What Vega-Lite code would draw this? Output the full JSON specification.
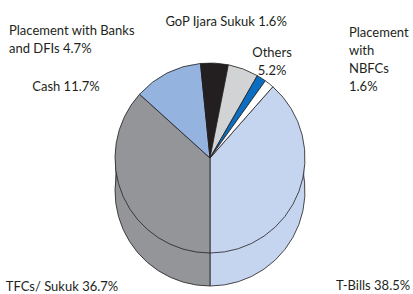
{
  "$schema": "https://vega.github.io/schema/vega-lite/v6.json",
  "width": 413,
  "height": 294,
  "padding": 0,
  "autosize": {"type": "none"},
  "background": "white",
  "config": {
    "view": {"stroke": null},
    "font": "Lato",
    "text": {"font": "Lato", "fontSize": 13, "lineHeight": 18, "lineBreak": "\n"}
  },
  "data": {
    "values": [
      {"category": "T-Bills", "share": 38.5, "label": "T-Bills 38.5%"},
      {"category": "TFCs/ Sukuk", "share": 36.7, "label": "TFCs/ Sukuk 36.7%"},
      {"category": "Cash", "share": 11.7, "label": "Cash 11.7%"},
      {"category": "Placement with Banks and DFIs", "share": 4.7, "label": "Placement with Banks\nand DFIs 4.7%"},
      {"category": "Others", "share": 5.2, "label": "Others\n5.2%"},
      {"category": "GoP Ijara Sukuk", "share": 1.6, "label": "GoP Ijara Sukuk 1.6%"},
      {"category": "Placement with NBFCs", "share": 1.6, "label": "Placement\nwith\nNBFCs\n1.6%"}
    ]
  },
  "transform": [{"window": [{"op": "row_number", "as": "idx"}]}],
  "encoding": {
    "theta": {"field": "share", "type": "quantitative", "stack": true, "scale": {"range": [0.7226, 7.0058]}},
    "order": {"field": "idx", "type": "quantitative"},
    "color": {
      "field": "category",
      "type": "nominal",
      "legend": null,
      "scale": {
        "domain": ["T-Bills", "TFCs/ Sukuk", "Cash", "Placement with Banks and DFIs", "Others", "GoP Ijara Sukuk", "Placement with NBFCs"],
        "range": ["#c6d5ef", "#939598", "#94b3de", "#231f20", "#d1d3d4", "#0a6fc2", "#ffffff"]
      }
    }
  },
  "layer": [
    {"mark": {"type": "arc", "outerRadius": 95, "xOffset": 3.5, "yOffset": 15, "strokeWidth": 0}},
    {"mark": {"type": "arc", "outerRadius": 95, "xOffset": 3.5, "yOffset": 19, "strokeWidth": 0}},
    {"mark": {"type": "arc", "outerRadius": 95, "xOffset": 3.5, "yOffset": 23, "strokeWidth": 0}},
    {"mark": {"type": "arc", "outerRadius": 95, "xOffset": 3.5, "yOffset": 27, "strokeWidth": 0}},
    {"mark": {"type": "arc", "outerRadius": 95, "xOffset": 3.5, "yOffset": 31, "strokeWidth": 0}},
    {"mark": {"type": "arc", "outerRadius": 95, "xOffset": 3.5, "yOffset": 35, "strokeWidth": 0}},
    {"mark": {"type": "arc", "outerRadius": 95, "xOffset": 3.5, "yOffset": 39, "strokeWidth": 0}},
    {"mark": {"type": "arc", "outerRadius": 95, "xOffset": 3.5, "yOffset": 44, "stroke": "#231f20", "strokeWidth": 0.8}},
    {"mark": {"type": "arc", "outerRadius": 95, "xOffset": 3.5, "yOffset": 11, "stroke": "#231f20", "strokeWidth": 0.8}},
    {
      "mark": {"type": "text", "radius": 100, "xOffset": 3.5, "yOffset": 11, "dx": 69.5, "dy": 93},
      "encoding": {"text": {"condition": {"test": "datum.category === 'T-Bills'", "field": "label"}, "value": ""}, "color": {"value": "#231f20"}}
    },
    {
      "mark": {"type": "text", "radius": 100, "xOffset": 3.5, "yOffset": 11, "dx": -56.6, "dy": 88},
      "encoding": {"text": {"condition": {"test": "datum.category === 'TFCs/ Sukuk'", "field": "label"}, "value": ""}, "color": {"value": "#231f20"}}
    },
    {
      "mark": {"type": "text", "radius": 100, "xOffset": 3.5, "yOffset": 11, "dx": -98.9, "dy": 18.3},
      "encoding": {"text": {"condition": {"test": "datum.category === 'Cash'", "field": "label"}, "value": ""}, "color": {"value": "#231f20"}}
    },
    {
      "mark": {"type": "text", "radius": 100, "xOffset": 3.5, "yOffset": 11, "dx": -205.7, "dy": -27.1, "align": "left"},
      "encoding": {"text": {"condition": {"test": "datum.category === 'Placement with Banks and DFIs'", "field": "label"}, "value": ""}, "color": {"value": "#231f20"}}
    },
    {
      "mark": {"type": "text", "radius": 100, "xOffset": 3.5, "yOffset": 11, "dx": 27, "dy": -11.5},
      "encoding": {"text": {"condition": {"test": "datum.category === 'Others'", "field": "label"}, "value": ""}, "color": {"value": "#231f20"}}
    },
    {
      "mark": {"type": "text", "radius": 100, "xOffset": 3.5, "yOffset": 11, "dx": -38, "dy": -51.9},
      "encoding": {"text": {"condition": {"test": "datum.category === 'GoP Ijara Sukuk'", "field": "label"}, "value": ""}, "color": {"value": "#231f20"}}
    },
    {
      "mark": {"type": "text", "radius": 100, "xOffset": 3.5, "yOffset": 11, "dx": 76.7, "dy": -47, "align": "left"},
      "encoding": {"text": {"condition": {"test": "datum.category === 'Placement with NBFCs'", "field": "label"}, "value": ""}, "color": {"value": "#231f20"}}
    }
  ]
}
